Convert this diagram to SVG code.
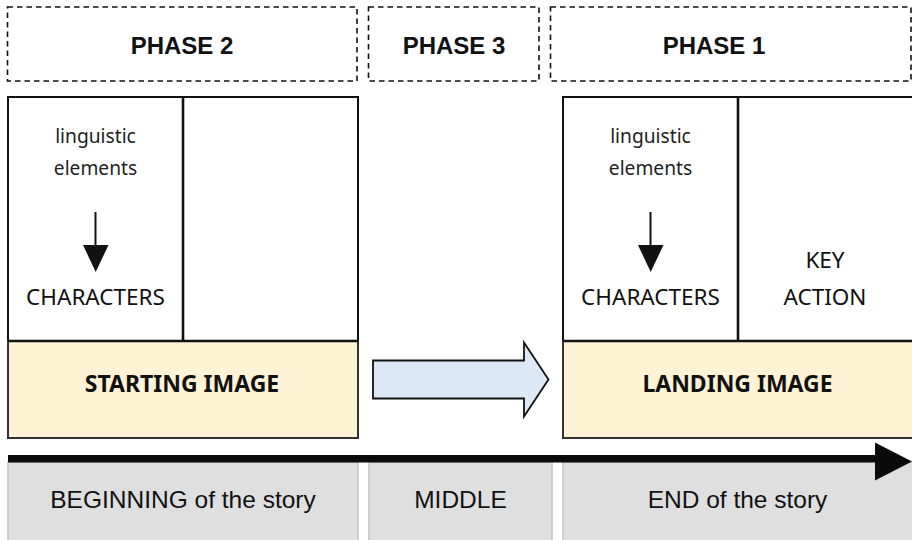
<svg xmlns="http://www.w3.org/2000/svg" width="912" height="540" viewBox="0 0 912 540">
<style>
.phase{fill:#fff;stroke:#111;stroke-width:1.6;stroke-dasharray:5.5 4}
.ph{font-family:"Liberation Sans",Arial,sans-serif;font-weight:bold;font-size:24px;fill:#111;text-anchor:middle}
.cell{fill:#fff;stroke:#111;stroke-width:2}
.img{fill:#fff3d5;stroke:#333;stroke-width:2}
.sep{stroke:#111;stroke-width:2.6}
.sm{font-family:"Noto Sans","Open Sans",sans-serif;font-size:19.2px;fill:#222;text-anchor:middle}
.md{font-family:"Noto Sans","Open Sans",sans-serif;font-size:22.5px;fill:#111;text-anchor:middle}
.bd{font-family:"Noto Sans","Open Sans",sans-serif;font-weight:bold;font-size:23px;fill:#111;text-anchor:middle}
.story{fill:#e0dfe0;stroke:#c4c4c4;stroke-width:1.5}
.st{font-family:"Liberation Sans",Arial,sans-serif;font-size:24.5px;fill:#111;text-anchor:middle}
</style>

<g id="phase2"><rect class="phase" x="7.5" y="7" width="349.5" height="74"/><text class="ph" x="182" y="54">PHASE 2</text></g>
<g id="phase3"><rect class="phase" x="368.5" y="7" width="170.5" height="74"/><text class="ph" x="454" y="54">PHASE 3</text></g>
<g id="phase1"><rect class="phase" x="550.5" y="7" width="360.5" height="74"/><text class="ph" x="714" y="54">PHASE 1</text></g>

<g id="start-panel">
<rect class="cell" x="8" y="97" width="350" height="244"/>
<line class="sep" x1="183" y1="97" x2="183" y2="341"/>
<text class="sm" x="95.5" y="143">linguistic</text>
<text class="sm" x="95.5" y="175">elements</text>
<text class="md" x="95.5" y="305">CHARACTERS</text>
</g>
<g id="starting-image">
<rect class="img" x="8" y="341" width="350" height="97"/>
<line class="sep" x1="8" y1="341" x2="358" y2="341"/>
<text class="bd" x="182" y="391.5">STARTING IMAGE</text>
</g>

<g id="landing-panel">
<rect class="cell" x="563" y="97" width="350" height="244"/>
<line class="sep" x1="738" y1="97" x2="738" y2="341"/>
<text class="sm" x="650.5" y="143">linguistic</text>
<text class="sm" x="650.5" y="175">elements</text>
<text class="md" x="650.5" y="305">CHARACTERS</text>
<text class="md" x="825" y="268">KEY</text>
<text class="md" x="825" y="305">ACTION</text>
</g>
<g id="landing-image">
<rect class="img" x="563" y="341" width="350" height="97"/>
<line class="sep" x1="563" y1="341" x2="912" y2="341"/>
<text class="bd" x="737.5" y="391.5">LANDING IMAGE</text>
</g>

<g id="beginning"><rect class="story" x="8" y="462" width="350" height="85"/><text class="st" x="183" y="507.5">BEGINNING of the story</text></g>
<g id="middle"><rect class="story" x="369" y="462" width="183" height="85"/><text class="st" x="460.5" y="507.5">MIDDLE</text></g>
<g id="end"><rect class="story" x="563" y="462" width="352" height="85"/><text class="st" x="737.5" y="507.5">END of the story</text></g>

<g id="connectors">
<line x1="95.5" y1="212" x2="95.5" y2="246" stroke="#111" stroke-width="2"/>
<path d="M83,245 L108.5,245 L95.7,272 z" fill="#111"/>
<line x1="650.5" y1="212" x2="650.5" y2="246" stroke="#111" stroke-width="2"/>
<path d="M638,245 L663.5,245 L650.7,272 z" fill="#111"/>
<path d="M373,360.5 L524,360.5 L524,342.5 L548.5,379.5 L524,416.5 L524,398.5 L373,398.5 z" fill="#dde8f6" stroke="#111" stroke-width="1.8" stroke-linejoin="miter"/>
<rect x="8" y="455" width="868" height="7.5" fill="#0a0a0a"/>
<path d="M875,442.5 L912,461.5 L875,480.5 z" fill="#0a0a0a"/>
</g>
</svg>
